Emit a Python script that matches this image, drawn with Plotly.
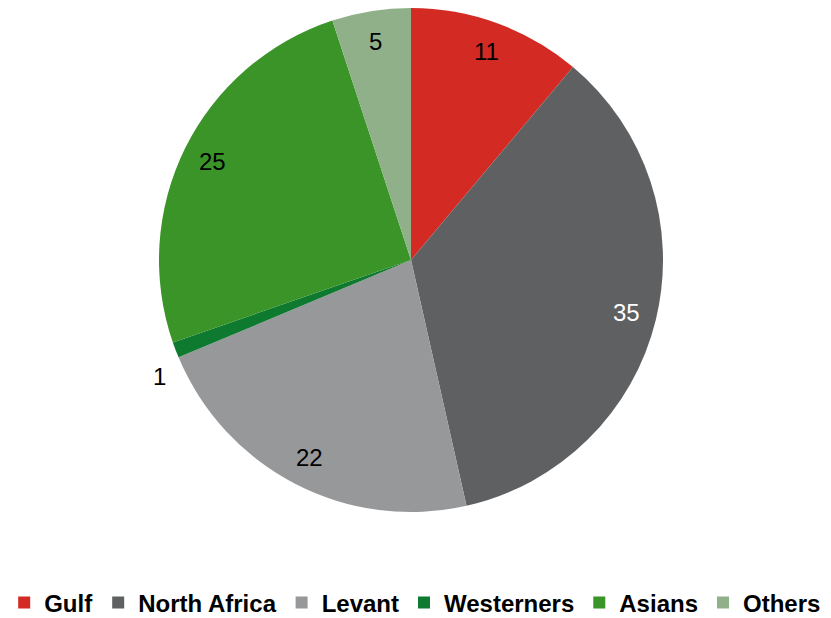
import plotly.graph_objects as go
import numpy as np

# Data
labels = ["Gulf", "North Africa", "Levant", "Westerners", "Asians", "Others"]
values = [11, 35, 22, 1, 25, 5]
colors = ["#D42A24", "#5F6062", "#97989A", "#0D7A2F", "#3A9428", "#8FB089"]
text_colors = ["black", "white", "black", "black", "black", "black"]

W, H = 831, 618
cx, cy, R = 403, 252, 252  # pie centre and radius in pixels (page has an 8px body margin)

fig = go.Figure()
fig.add_trace(go.Pie(
    labels=labels, values=values, sort=False, direction="clockwise",
    marker=dict(colors=colors, line=dict(width=0)),
    textinfo="none", hoverinfo="label+value",
    domain=dict(x=[(cx - R) / W, (cx + R) / W], y=[1 - (cy + R) / H, 1]),
))

# value labels placed around the slices; tiny slices get their label outside
total = sum(values)
cum = 0
for lab, v, tc in zip(labels, values, text_colors):
    ang = 2 * np.pi * (cum + v / 2) / total
    cum += v
    if v < 3:
        ang -= np.radians(4)
        r = R * 1.1
    else:
        r = R * 0.88
    px = cx + r * np.sin(ang)
    py = cy - r * np.cos(ang)
    fig.add_annotation(x=px / W, y=1 - py / H, xref="paper", yref="paper",
                       xanchor="center", yanchor="middle",
                       text=str(v), showarrow=False,
                       font=dict(size=24, color=tc, family="Liberation Sans, Arial"))

fig.update_layout(
    width=W, height=H,
    margin=dict(l=0, r=0, t=0, b=0, autoexpand=False),
    paper_bgcolor="white",
    font=dict(family="Liberation Sans, Arial", size=24, color="black"),
    legend=dict(orientation="h", x=0.49, xanchor="center", y=1 - 595 / H, yanchor="middle",
                font=dict(size=24, weight="bold"), itemwidth=30, tracegroupgap=0),
)

fig.write_html("out.html")
